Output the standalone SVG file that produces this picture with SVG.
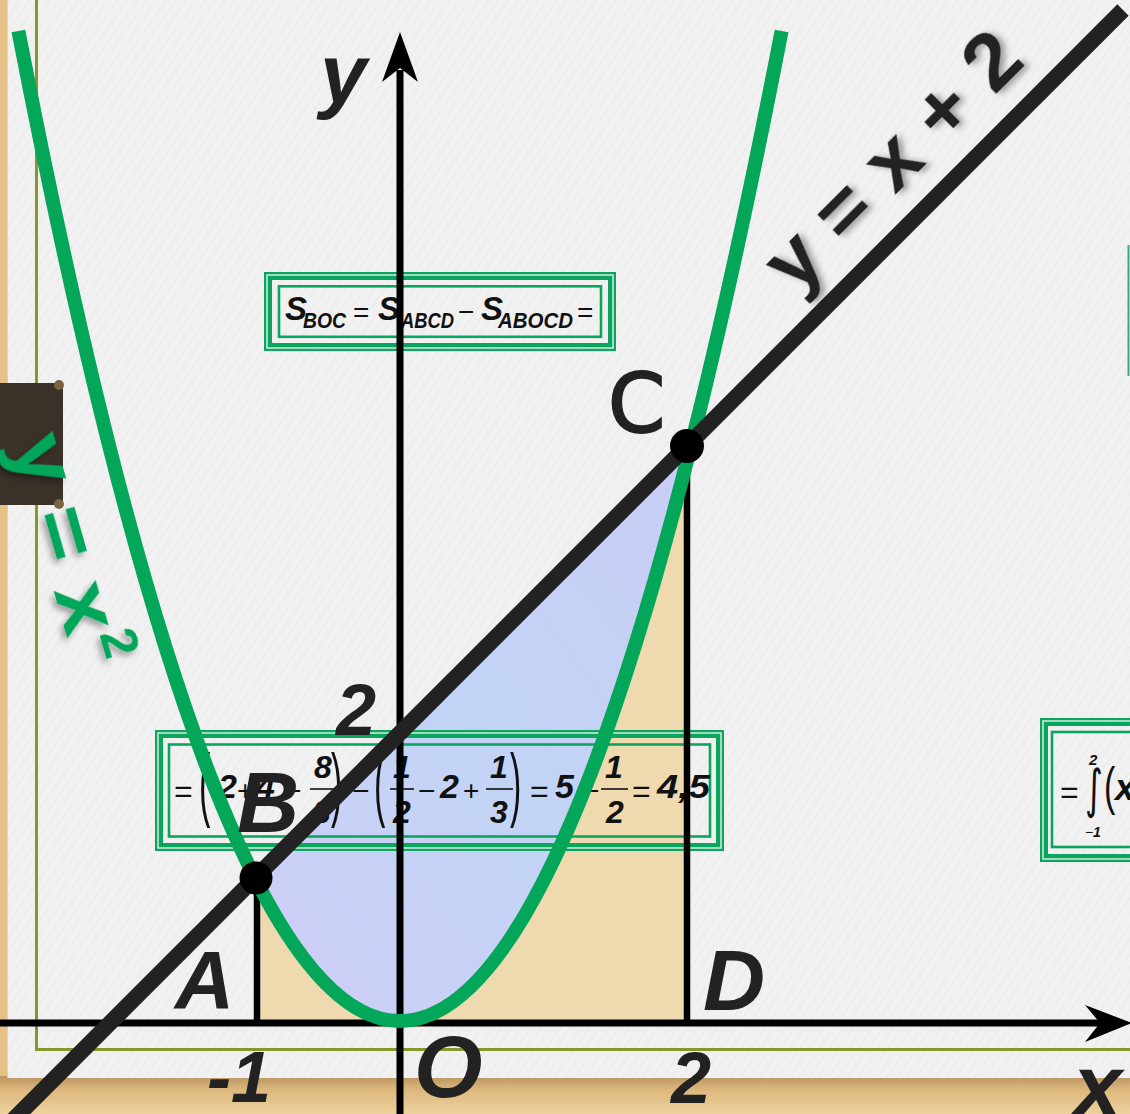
<svg xmlns="http://www.w3.org/2000/svg" width="1130" height="1114" viewBox="0 0 1130 1114">
<defs>
<style>
.lab{font-family:"Liberation Sans",Arial,sans-serif;font-weight:bold;font-style:italic;fill:#222}
.m{font-family:"Liberation Sans",Arial,sans-serif;font-weight:bold;font-style:italic;fill:#111}
.op{font-family:"Liberation Sans",Arial,sans-serif;font-weight:normal;fill:#111}
.frameA{fill:none;stroke:#0aa65e;stroke-width:8}
.frameW{fill:none;stroke:#f4f4f4;stroke-width:1.3}
.frameI{fill:none;stroke:#0aa65e;stroke-width:2.6}
.bar{stroke:#111;stroke-width:1.6}
.seg{stroke:#000;stroke-width:6.5;fill:none}
</style>
<pattern id="tex" width="8" height="8" patternUnits="userSpaceOnUse" patternTransform="rotate(35)">
<rect width="8" height="8" fill="#f1f1f1"/>
<line x1="0" y1="0" x2="0" y2="8" stroke="#e9e9e9" stroke-width="2"/>
</pattern>
<linearGradient id="tanBot" x1="0" y1="0" x2="0" y2="1">
<stop offset="0" stop-color="#b99560"/>
<stop offset="0.35" stop-color="#dcb77c"/>
<stop offset="1" stop-color="#edd29e"/>
</linearGradient>
<linearGradient id="blue" x1="0" y1="1" x2="1" y2="0">
<stop offset="0" stop-color="#cfcdf6"/>
<stop offset="0.5" stop-color="#c2d4f6"/>
<stop offset="1" stop-color="#c9cdf5"/>
</linearGradient>
<filter id="sh" x="-20%" y="-20%" width="140%" height="140%">
<feDropShadow dx="3" dy="4" stdDeviation="3" flood-color="#000" flood-opacity="0.35"/>
</filter>
</defs>

<g id="background">
<rect x="0" y="0" width="1130" height="1114" fill="#e6c185"/>
<rect x="0" y="1076" width="1130" height="38" fill="url(#tanBot)"/>
<rect x="7" y="0" width="1123" height="1078" fill="url(#tex)"/>
<line x1="7.5" y1="0" x2="7.5" y2="1078" stroke="#d8d2c4" stroke-width="1"/>
<path d="M36.5,0 V1049.5 H1130" fill="none" stroke="#86982a" stroke-width="3"/>
<rect x="0" y="383" width="63" height="122" fill="#3a3129"/>
<circle cx="59" cy="385" r="5" fill="#7a6446"/>
<circle cx="59" cy="504" r="5" fill="#7a6446"/>
<line x1="1128.5" y1="245" x2="1128.5" y2="376" stroke="#3aaa80" stroke-width="2"/>
</g>

<g id="shading">
<polygon points="257,1022 257,876 687,446 687,1022" fill="#efd9ae"/>
<path d="M255,878 L692,441 Q473.5,1309 255,878 Z" fill="url(#blue)"/>
</g>

<g id="box1">
<rect x="268" y="276" width="344" height="71" class="frameA"/>
<rect x="267" y="275" width="346" height="73" class="frameW"/>
<rect x="279" y="286.3" width="322" height="50.5" class="frameI"/>
<text x="285" y="320" class="m" font-size="33">S</text>
<text x="303" y="328" class="m" font-size="22" textLength="43" lengthAdjust="spacingAndGlyphs">BOC</text>
<text x="353" y="322" class="op" font-size="28">=</text>
<text x="378" y="320" class="m" font-size="33">S</text>
<text x="401" y="328" class="m" font-size="22" textLength="53" lengthAdjust="spacingAndGlyphs">ABCD</text>
<text x="458" y="321" class="op" font-size="28">−</text>
<text x="481" y="320" class="m" font-size="33">S</text>
<text x="498" y="328" class="m" font-size="22" textLength="75" lengthAdjust="spacingAndGlyphs">ABOCD</text>
<text x="577" y="322" class="op" font-size="28">=</text>
</g>

<g id="box2">
<rect x="159" y="734" width="561" height="113" class="frameA"/>
<rect x="158" y="733" width="563" height="115" class="frameW"/>
<rect x="169" y="744.5" width="541" height="92" class="frameI"/>
<text x="174" y="802" class="op" font-size="32">=</text>
<text x="0" y="0" class="op" font-size="34" transform="translate(199,811) scale(1,2.4)">(</text>
<text x="218" y="798" class="m" font-size="34">2</text>
<text x="237" y="800" class="op" font-size="28">+</text>
<text x="256" y="798" class="m" font-size="34">4</text>
<text x="284" y="801" class="op" font-size="30">−</text>
<text x="323" y="778" class="m" font-size="32" text-anchor="middle">8</text>
<line x1="310" y1="789" x2="336" y2="789" class="bar"/>
<text x="322" y="823" class="m" font-size="32" text-anchor="middle">3</text>
<text x="0" y="0" class="op" font-size="34" transform="translate(331,811) scale(1,2.4)">)</text>
<text x="352" y="801" class="op" font-size="30">−</text>
<text x="0" y="0" class="op" font-size="34" transform="translate(374,811) scale(1,2.4)">(</text>
<text x="402" y="778" class="m" font-size="32" text-anchor="middle">1</text>
<line x1="390" y1="789" x2="414" y2="789" class="bar"/>
<text x="402" y="823" class="m" font-size="32" text-anchor="middle">2</text>
<text x="418" y="801" class="op" font-size="30">−</text>
<text x="440" y="798" class="m" font-size="34">2</text>
<text x="463" y="800" class="op" font-size="28">+</text>
<text x="499" y="778" class="m" font-size="32" text-anchor="middle">1</text>
<line x1="486" y1="789" x2="513" y2="789" class="bar"/>
<text x="499" y="823" class="m" font-size="32" text-anchor="middle">3</text>
<text x="0" y="0" class="op" font-size="34" transform="translate(510,811) scale(1,2.4)">)</text>
<text x="530" y="802" class="op" font-size="32">=</text>
<text x="555" y="798" class="m" font-size="34">5</text>
<text x="582" y="801" class="op" font-size="30">−</text>
<text x="614" y="778" class="m" font-size="32" text-anchor="middle">1</text>
<line x1="601" y1="789" x2="628" y2="789" class="bar"/>
<text x="615" y="823" class="m" font-size="32" text-anchor="middle">2</text>
<text x="632" y="802" class="op" font-size="32">=</text>
<text x="657" y="798" class="m" font-size="34" textLength="53" lengthAdjust="spacingAndGlyphs">4,5</text>
</g>

<g id="box3">
<rect x="1044" y="722" width="120" height="136" class="frameA"/>
<rect x="1043" y="721" width="122" height="138" class="frameW"/>
<rect x="1052" y="732" width="110" height="115" class="frameI"/>
<text x="1060" y="803" class="op" font-size="32">=</text>
<text x="0" y="0" font-family="DejaVu Sans, sans-serif" font-size="34" fill="#111" transform="translate(1085,807) scale(1,1.55)">∫</text>
<text x="1089" y="765" class="m" font-size="15">2</text>
<text x="1085" y="837" class="op" font-size="14">−</text>
<text x="1093" y="837" class="m" font-size="14">1</text>
<text x="0" y="0" class="op" font-size="34" transform="translate(1104,804) scale(1,1.5)">(</text>
<text x="1115" y="800" class="m" font-size="36">x</text>
</g>

<g id="connectors">
<line x1="400" y1="1114" x2="400" y2="70" stroke="#000" stroke-width="7"/>
<polygon points="400,32 382,82 400,68 418,82" fill="#000"/>
<line x1="257" y1="878" x2="257" y2="1020" class="seg"/>
<line x1="687" y1="446" x2="687" y2="1020" class="seg"/>
<line x1="0" y1="1023" x2="1100" y2="1023" stroke="#000" stroke-width="7"/>
<polygon points="1132,1023 1085,1005 1100,1023 1085,1042" fill="#000"/>
<path id="parabola" d="M18.4,31 Q400,2011 781.6,31" fill="none" stroke="#04a65a" stroke-width="14"/>
<line id="line" x1="-10" y1="1143" x2="1123" y2="10" stroke="#222" stroke-width="16"/>
</g>

<g id="pointB"><circle cx="256" cy="878" r="16.5" fill="#000"/></g>
<g id="pointC"><circle cx="687" cy="446" r="17" fill="#000"/></g>

<g id="labels">
<text x="320" y="103" class="lab" font-size="84">y</text>
<text x="1073" y="1116" class="lab" font-size="88">x</text>
<text x="414" y="1097" class="lab" font-size="88">O</text>
<text x="207" y="1102" class="lab" font-size="72">-1</text>
<text x="671" y="1103" class="lab" font-size="72">2</text>
<text x="336" y="735" class="lab" font-size="72">2</text>
<text x="175" y="1008" class="lab" font-size="82">A</text>
<text x="237" y="832" class="lab" font-size="86">B</text>
<text x="608" y="432" font-family="DejaVu Sans, sans-serif" font-size="82" fill="#222" stroke="#222" stroke-width="2">C</text>
<text x="703" y="1010" class="lab" font-size="86">D</text>
<text x="795" y="295" transform="rotate(-45 795 295)" font-family="Liberation Sans, Arial, sans-serif" font-weight="bold" font-size="80" fill="#222" textLength="328" lengthAdjust="spacingAndGlyphs" filter="url(#sh)">y = x + 2</text>
<text x="11" y="442" transform="rotate(74 11 442)" font-family="Liberation Sans, Arial, sans-serif" font-weight="bold" font-size="82" fill="#04a65a" filter="url(#sh)"><tspan textLength="205" lengthAdjust="spacingAndGlyphs">y = x</tspan><tspan font-size="50" dy="-32" dx="4">2</tspan></text>
</g>
</svg>
